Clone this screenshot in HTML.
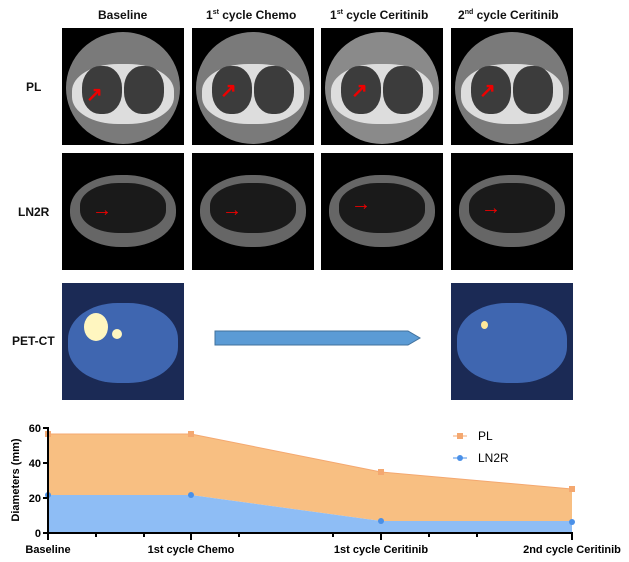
<!DOCTYPE html>
<html><head><meta charset="utf-8"><style>
body{margin:0;width:629px;height:562px;background:#fff;position:relative;overflow:hidden;font-family:"Liberation Sans",Arial,sans-serif}
.t{position:absolute;font-weight:bold;font-size:12px;color:#111;white-space:nowrap}
.img{position:absolute;width:122px;height:117px;background:#000;overflow:hidden}
.ct1 .body{position:absolute;left:4px;top:4px;width:114px;height:112px;border-radius:50%;background:#7a7a7a}
.ct1 .in{position:absolute;left:10px;top:36px;width:102px;height:60px;border-radius:45%;background:#ddd}
.ct1 .l{position:absolute;top:38px;width:40px;height:48px;border-radius:45%;background:#3c3c3c}
.ct2 .body{position:absolute;left:8px;top:22px;width:106px;height:72px;border-radius:48%;background:#666}
.ct2 .in{position:absolute;left:18px;top:30px;width:86px;height:50px;border-radius:45%;background:#1a1a1a}
.pet{background:#1b2a55}
.arr{position:absolute;color:#e00;font-size:20px;font-weight:bold}
</style></head><body>
<div class="t" style="left:98px;top:8px">Baseline</div>
<div class="t" style="left:206px;top:8px">1<sup style="font-size:7px">st</sup> cycle Chemo</div>
<div class="t" style="left:330px;top:8px">1<sup style="font-size:7px">st</sup> cycle Ceritinib</div>
<div class="t" style="left:458px;top:8px">2<sup style="font-size:7px">nd</sup> cycle Ceritinib</div>
<div class="t" style="left:26px;top:80px">PL</div>
<div class="t" style="left:18px;top:205px">LN2R</div>
<div class="t" style="left:12px;top:334px">PET-CT</div>

<div class="img ct1" style="left:62px;top:28px"><div class="body"></div><div class="in"></div><div class="l" style="left:20px"></div><div class="l" style="left:62px"></div><div class="arr" style="left:24px;top:54px">↗</div></div>
<div class="img ct1" style="left:192px;top:28px"><div class="body"></div><div class="in"></div><div class="l" style="left:20px"></div><div class="l" style="left:62px"></div><div class="arr" style="left:28px;top:50px">↗</div></div>
<div class="img ct1" style="left:321px;top:28px"><div class="body" style="background:#8a8a8a"></div><div class="in"></div><div class="l" style="left:20px"></div><div class="l" style="left:62px"></div><div class="arr" style="left:30px;top:50px">↗</div></div>
<div class="img ct1" style="left:451px;top:28px"><div class="body"></div><div class="in"></div><div class="l" style="left:20px"></div><div class="l" style="left:62px"></div><div class="arr" style="left:28px;top:50px">↗</div></div>

<div class="img ct2" style="left:62px;top:153px"><div class="body"></div><div class="in"></div><div class="arr" style="left:30px;top:46px">→</div></div>
<div class="img ct2" style="left:192px;top:153px"><div class="body"></div><div class="in"></div><div class="arr" style="left:30px;top:46px">→</div></div>
<div class="img ct2" style="left:321px;top:153px"><div class="body"></div><div class="in"></div><div class="arr" style="left:30px;top:40px">→</div></div>
<div class="img ct2" style="left:451px;top:153px"><div class="body"></div><div class="in"></div><div class="arr" style="left:30px;top:44px">→</div></div>

<div class="img pet" style="left:62px;top:283px"><div style="position:absolute;left:6px;top:20px;width:110px;height:80px;border-radius:45%;background:#3f66b0"></div><div style="position:absolute;left:22px;top:30px;width:24px;height:28px;border-radius:50%;background:#fff6c0"></div><div style="position:absolute;left:50px;top:46px;width:10px;height:10px;border-radius:50%;background:#fff6c0"></div></div>
<div class="img pet" style="left:451px;top:283px"><div style="position:absolute;left:6px;top:20px;width:110px;height:80px;border-radius:45%;background:#3f66b0"></div><div style="position:absolute;left:30px;top:38px;width:7px;height:8px;border-radius:50%;background:#ffe89a"></div></div>
<svg style="position:absolute;left:0;top:0" width="629" height="562">
<polygon points="215,331 408,331 420,338 408,345 215,345" fill="#5b9bd5" stroke="#41719c"/>
<polygon points="48,434 191,434 381,472 572,489 572,521 381,521 191,495 48,495" fill="#f8bf82"/>
<polygon points="48,495 191,495 381,521 572,521 572,533 48,533" fill="#8ebdf5"/>
<polyline points="48,434 191,434 381,472 572,489" fill="none" stroke="#f4a870" stroke-width="1"/>
<g fill="#f4a870"><rect x="45" y="431" width="6" height="6"/><rect x="188" y="431" width="6" height="6"/><rect x="378" y="469" width="6" height="6"/><rect x="569" y="486" width="6" height="6"/></g>
<g fill="#4a90e8"><circle cx="48" cy="495" r="3"/><circle cx="191" cy="495" r="3"/><circle cx="381" cy="521" r="3"/><circle cx="572" cy="522" r="3"/></g>
<line x1="48" y1="427" x2="48" y2="534" stroke="#000" stroke-width="2"/>
<line x1="47" y1="533" x2="573" y2="533" stroke="#000" stroke-width="2"/>
<g stroke="#000" stroke-width="2"><line x1="43" y1="428" x2="48" y2="428"/><line x1="43" y1="463" x2="48" y2="463"/><line x1="43" y1="498" x2="48" y2="498"/><line x1="43" y1="533" x2="48" y2="533"/>
<line x1="48" y1="533" x2="48" y2="540"/><line x1="96" y1="533" x2="96" y2="537"/><line x1="144" y1="533" x2="144" y2="537"/><line x1="191" y1="533" x2="191" y2="540"/><line x1="239" y1="533" x2="239" y2="537"/><line x1="333" y1="533" x2="333" y2="537"/><line x1="381" y1="533" x2="381" y2="540"/><line x1="429" y1="533" x2="429" y2="537"/><line x1="477" y1="533" x2="477" y2="537"/><line x1="572" y1="533" x2="572" y2="540"/></g>
<g font-family="Liberation Sans,Arial" font-size="11" font-weight="bold" text-anchor="end"><text x="41" y="432">60</text><text x="41" y="467">40</text><text x="41" y="502">20</text><text x="41" y="537">0</text></g>
<text transform="translate(19,480) rotate(-90)" text-anchor="middle" font-family="Liberation Sans,Arial" font-size="11" font-weight="bold">Diameters (mm)</text>
<g font-family="Liberation Sans,Arial" font-size="11" font-weight="bold" text-anchor="middle"><text x="48" y="553">Baseline</text><text x="191" y="553">1st cycle Chemo</text><text x="381" y="553">1st cycle Ceritinib</text><text x="572" y="553">2nd cycle Ceritinib</text></g>
<line x1="453" y1="436" x2="467" y2="436" stroke="#f4a870"/><rect x="457" y="433" width="6" height="6" fill="#f4a870"/>
<line x1="453" y1="458" x2="467" y2="458" stroke="#4a90e8"/><circle cx="460" cy="458" r="3" fill="#4a90e8"/>
<g font-family="Liberation Sans,Arial" font-size="12"><text x="478" y="440">PL</text><text x="478" y="462">LN2R</text></g>
</svg>
</body></html>
